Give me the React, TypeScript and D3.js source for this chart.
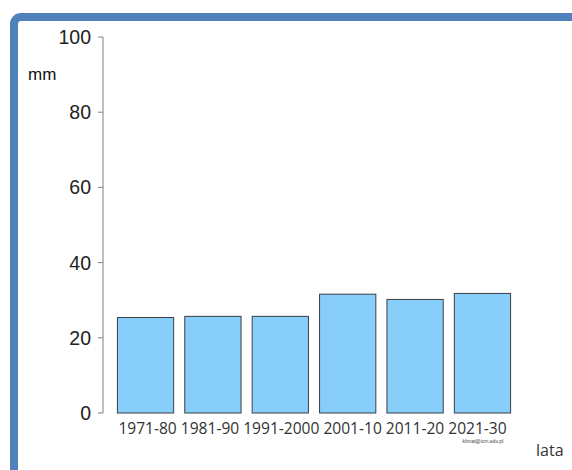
import * as d3 from "d3";

const decades = ["1971-80", "1981-90", "1991-2000", "2001-10", "2011-20", "2021-30"];
const precip = [25.4, 25.7, 25.7, 31.6, 30.2, 31.8];
const yTicks = [0, 20, 40, 60, 80, 100];

const width = 572;
const height = 470;
const marginLeft = 103;
const marginTop = 37;
const plotBottom = 413;

export default function App() {
  const x = d3
    .scaleBand<string>()
    .domain(decades)
    .range([112, 516])
    .paddingInner(0.165)
    .paddingOuter(0.08);

  const y = d3.scaleLinear().domain([0, 100]).range([plotBottom, marginTop]);

  // the labels sit in one text row under the bars, as in the source slide
  const first = x(decades[0]) ?? 0;
  const last = (x(decades[decades.length - 1]) ?? 0) + x.bandwidth();

  return (
    <svg
      width={width}
      height={height}
      style={{ position: "absolute", left: 0, top: 0, background: "#fff" }}
    >
      {/* blue slide frame */}
      <rect
        x={14}
        y={17}
        width={640}
        height={520}
        rx={7}
        fill="none"
        stroke="#4F81BD"
        strokeWidth={8}
      />

      {/* y axis */}
      <g fontFamily="'Liberation Sans', Arial, sans-serif" fontSize={19.5} fill="#222">
        <line
          x1={marginLeft}
          x2={marginLeft}
          y1={y(100)}
          y2={y(0)}
          stroke="#808080"
          strokeWidth={1}
        />
        {yTicks.map((t) => (
          <g key={t} transform={`translate(0,${y(t)})`}>
            <line x1={marginLeft - 5} x2={marginLeft} stroke="#808080" strokeWidth={1} />
            <text x={marginLeft - 12} dy="0.36em" textAnchor="end">
              {t}
            </text>
          </g>
        ))}
      </g>
      <text
        x={28}
        y={80}
        fontFamily="'Liberation Sans', Arial, sans-serif"
        fontSize={17}
        fill="#111"
      >
        mm
      </text>

      {/* bars */}
      {decades.map((d, i) => (
        <rect
          key={d}
          x={x(d)}
          y={y(precip[i])}
          width={x.bandwidth()}
          height={y(0) - y(precip[i])}
          fill="#87CEFA"
          stroke="#3a3f44"
          strokeWidth={1}
        />
      ))}

      {/* category labels */}
      <text
        x={first + 1}
        y={434}
        fontFamily="'Open Sans', 'Noto Sans', sans-serif"
        fontSize={16}
        fill="#333"
        textLength={last - first - 5}
        lengthAdjust="spacingAndGlyphs"
        style={{ whiteSpace: "pre" }}
      >
        {decades.join(" ")}
      </text>

      <text
        x={483}
        y={443}
        textAnchor="middle"
        fontFamily="'Liberation Sans', Arial, sans-serif"
        fontSize={5}
        fill="#444"
      >
        klimat@icm.edu.pl
      </text>
      <text
        x={536}
        y={456}
        fontFamily="'Open Sans', 'Noto Sans', sans-serif"
        fontSize={16}
        fill="#333"
      >
        lata
      </text>
    </svg>
  );
}
